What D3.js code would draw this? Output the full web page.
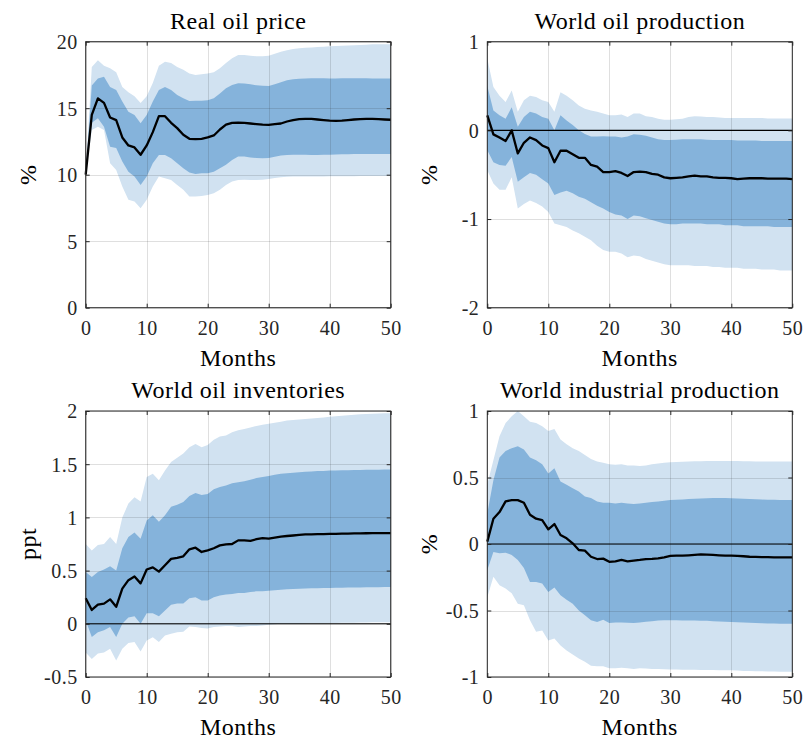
<!DOCTYPE html>
<html lang="en">
<head>
    <meta charset="UTF-8">
    <title>Impulse responses</title>
    <script src="https://cdnjs.cloudflare.com/ajax/libs/d3/7.8.5/d3.min.js"></script>
    <style>
        body {
            margin: 0;
            background: #fff;
            font-family: "Liberation Serif", "DejaVu Serif", serif;
        }
        .tick text {
            font-family: "Liberation Serif", serif;
            font-size: 20px;
            letter-spacing: 0.5px;
            fill: #262626;
        }
        .panel-title, .axis-label {
            font-size: 24px;
            letter-spacing: 0.5px;
            fill: #000;
        }
        .grid line {
            stroke: #262626;
            stroke-opacity: 0.15;
            shape-rendering: crispEdges;
        }
        .grid path, .axis path {
            display: none;
        }
        .axis line {
            stroke: #262626;
        }
    </style>
</head>
<body>
<div id="chart"></div>
<script>
    // months on the horizontal axis
    const months = d3.range(0, 51);

    // Real oil price
    const oilPriceMed = [10, 14.5, 15.74, 15.4, 14.3, 14.1, 12.8, 12.2, 12.05, 11.5, 12.2, 13.2, 14.4, 14.4, 13.9, 13.5, 13.0, 12.7, 12.68, 12.7, 12.8, 12.95, 13.4, 13.76, 13.9, 13.92, 13.9, 13.85, 13.8, 13.76, 13.75, 13.8, 13.85, 14.0, 14.1, 14.18, 14.2, 14.2, 14.15, 14.1, 14.06, 14.05, 14.06, 14.1, 14.15, 14.18, 14.2, 14.2, 14.18, 14.15, 14.13];
    const oilPriceHi68 = [10, 16.7, 17.24, 17.37, 16.6, 16.37, 15.5, 14.74, 14.49, 13.87, 14.49, 15.5, 16.37, 16.6, 16.37, 16.0, 15.74, 15.54, 15.56, 15.56, 15.6, 15.74, 16.1, 16.5, 16.74, 16.87, 16.85, 16.8, 16.72, 16.68, 16.67, 16.8, 16.95, 17.1, 17.18, 17.22, 17.24, 17.25, 17.25, 17.25, 17.24, 17.24, 17.25, 17.25, 17.26, 17.25, 17.25, 17.24, 17.24, 17.24, 17.24];
    const oilPriceLo68 = [10, 13.9, 14.24, 13.6, 12.1, 12.0, 11.0, 10.23, 9.86, 9.23, 9.86, 10.86, 11.49, 11.49, 11.24, 10.86, 10.49, 10.16, 10.06, 10.1, 10.1, 10.23, 10.49, 10.74, 11.11, 11.36, 11.36, 11.3, 11.26, 11.24, 11.26, 11.35, 11.45, 11.49, 11.5, 11.5, 11.5, 11.49, 11.49, 11.5, 11.5, 11.52, 11.53, 11.54, 11.55, 11.55, 11.56, 11.56, 11.56, 11.56, 11.56];
    const oilPriceHi90 = [10, 18.1, 18.6, 18.2, 18.0, 17.7, 16.6, 16.2, 15.9, 15.4, 15.9, 16.9, 18.2, 18.5, 18.4, 18.1, 17.9, 17.6, 17.5, 17.55, 17.6, 17.7, 18.0, 18.4, 18.75, 19.0, 19.0, 18.95, 18.9, 18.9, 18.95, 19.1, 19.25, 19.35, 19.45, 19.5, 19.55, 19.57, 19.6, 19.62, 19.65, 19.68, 19.7, 19.72, 19.74, 19.76, 19.78, 19.8, 19.8, 19.8, 19.8];
    const oilPriceLo90 = [10, 13.36, 13.6, 13.36, 10.86, 10.36, 9.11, 8.11, 7.98, 7.48, 8.11, 9.11, 9.86, 9.74, 9.61, 9.23, 8.86, 8.36, 8.36, 8.4, 8.48, 8.61, 8.86, 9.23, 9.48, 9.61, 9.62, 9.6, 9.6, 9.62, 9.68, 9.75, 9.8, 9.84, 9.86, 9.86, 9.86, 9.86, 9.87, 9.87, 9.88, 9.88, 9.88, 9.89, 9.89, 9.9, 9.9, 9.9, 9.9, 9.9, 9.9];

    // World oil production
    const oilProdMed = [0.17, -0.045, -0.08, -0.12, 0.0, -0.26, -0.14, -0.08, -0.11, -0.17, -0.2, -0.36, -0.23, -0.23, -0.27, -0.31, -0.31, -0.39, -0.41, -0.47, -0.47, -0.46, -0.48, -0.515, -0.47, -0.465, -0.47, -0.49, -0.5, -0.53, -0.54, -0.535, -0.53, -0.52, -0.51, -0.52, -0.52, -0.53, -0.535, -0.535, -0.54, -0.55, -0.545, -0.54, -0.54, -0.54, -0.545, -0.545, -0.545, -0.545, -0.55];
    const oilProdHi68 = [0.5, 0.225, 0.17, 0.13, 0.26, 0.04, 0.15, 0.21, 0.19, 0.15, 0.13, 0.0, 0.17, 0.11, 0.06, 0.0, -0.04, -0.07, -0.07, -0.065, -0.07, -0.07, -0.08, -0.07, -0.045, -0.05, -0.06, -0.08, -0.1, -0.11, -0.11, -0.105, -0.1, -0.1, -0.1, -0.1, -0.105, -0.11, -0.11, -0.11, -0.11, -0.115, -0.115, -0.115, -0.115, -0.12, -0.12, -0.12, -0.12, -0.12, -0.12];
    const oilProdLo68 = [-0.225, -0.36, -0.39, -0.4, -0.3, -0.58, -0.53, -0.48, -0.5, -0.55, -0.6, -0.73, -0.7, -0.68, -0.71, -0.75, -0.77, -0.81, -0.85, -0.88, -0.92, -0.95, -0.96, -1.0, -0.96, -0.97, -0.99, -1.01, -1.03, -1.05, -1.06, -1.06, -1.05, -1.05, -1.05, -1.05, -1.06, -1.06, -1.06, -1.07, -1.07, -1.07, -1.08, -1.08, -1.08, -1.08, -1.08, -1.09, -1.09, -1.09, -1.09];
    const oilProdHi90 = [0.81, 0.49, 0.39, 0.32, 0.45, 0.21, 0.34, 0.39, 0.375, 0.34, 0.32, 0.21, 0.43, 0.39, 0.34, 0.28, 0.245, 0.225, 0.21, 0.19, 0.17, 0.17, 0.18, 0.15, 0.19, 0.19, 0.16, 0.15, 0.13, 0.12, 0.12, 0.125, 0.13, 0.15, 0.16, 0.155, 0.15, 0.15, 0.145, 0.14, 0.14, 0.14, 0.14, 0.14, 0.14, 0.14, 0.135, 0.135, 0.135, 0.135, 0.135];
    const oilProdLo90 = [-0.45, -0.6, -0.67, -0.67, -0.53, -0.88, -0.83, -0.79, -0.82, -0.86, -0.92, -1.05, -1.07, -1.09, -1.13, -1.16, -1.2, -1.24, -1.3, -1.35, -1.37, -1.37, -1.39, -1.43, -1.41, -1.42, -1.45, -1.47, -1.49, -1.51, -1.52, -1.52, -1.52, -1.52, -1.53, -1.53, -1.53, -1.54, -1.54, -1.55, -1.55, -1.55, -1.56, -1.56, -1.56, -1.57, -1.57, -1.57, -1.58, -1.58, -1.58];

    // World oil inventories
    const invMed = [0.24, 0.13, 0.18, 0.19, 0.23, 0.16, 0.33, 0.41, 0.445, 0.38, 0.51, 0.53, 0.49, 0.55, 0.61, 0.62, 0.634, 0.70, 0.715, 0.675, 0.69, 0.71, 0.737, 0.747, 0.75, 0.784, 0.785, 0.78, 0.795, 0.806, 0.8, 0.81, 0.82, 0.825, 0.83, 0.835, 0.84, 0.84, 0.842, 0.843, 0.845, 0.845, 0.847, 0.848, 0.85, 0.85, 0.851, 0.852, 0.853, 0.853, 0.853];
    const invHi68 = [0.486, 0.44, 0.486, 0.51, 0.54, 0.5, 0.71, 0.815, 0.857, 0.8, 0.97, 1.02, 0.96, 1.02, 1.10, 1.12, 1.145, 1.2, 1.23, 1.21, 1.22, 1.265, 1.286, 1.30, 1.32, 1.33, 1.34, 1.355, 1.37, 1.38, 1.39, 1.40, 1.41, 1.415, 1.42, 1.425, 1.43, 1.432, 1.435, 1.437, 1.44, 1.441, 1.443, 1.444, 1.445, 1.446, 1.447, 1.448, 1.449, 1.45, 1.45];
    const invLo68 = [0.03, -0.125, -0.08, -0.06, -0.03, -0.125, 0.0, 0.06, 0.07, 0.0, 0.1, 0.1, 0.07, 0.125, 0.18, 0.19, 0.19, 0.24, 0.25, 0.22, 0.22, 0.25, 0.266, 0.275, 0.28, 0.29, 0.29, 0.3, 0.305, 0.307, 0.31, 0.315, 0.32, 0.325, 0.328, 0.33, 0.332, 0.334, 0.335, 0.336, 0.337, 0.338, 0.339, 0.34, 0.341, 0.342, 0.343, 0.344, 0.344, 0.345, 0.345];
    const invHi90 = [0.75, 0.69, 0.74, 0.75, 0.815, 0.75, 1.0, 1.13, 1.19, 1.15, 1.38, 1.41, 1.35, 1.44, 1.52, 1.56, 1.6, 1.66, 1.69, 1.66, 1.68, 1.73, 1.76, 1.77, 1.80, 1.82, 1.83, 1.845, 1.86, 1.87, 1.88, 1.89, 1.9, 1.91, 1.915, 1.92, 1.925, 1.93, 1.935, 1.94, 1.945, 1.95, 1.955, 1.96, 1.965, 1.97, 1.972, 1.975, 1.977, 1.98, 1.98];
    const invLo90 = [-0.27, -0.33, -0.28, -0.27, -0.235, -0.345, -0.235, -0.18, -0.17, -0.26, -0.157, -0.126, -0.17, -0.11, -0.094, -0.08, -0.075, -0.025, -0.03, -0.04, -0.045, -0.03, -0.025, -0.02, -0.02, -0.03, -0.025, -0.02, -0.02, -0.015, -0.01, -0.005, 0.0, 0.0, 0.0, 0.0, 0.002, 0.004, 0.005, 0.006, 0.007, 0.008, 0.009, 0.01, 0.011, 0.012, 0.013, 0.014, 0.015, 0.015, 0.015];

    // World industrial production
    const ipMed = [0.018, 0.19, 0.24, 0.32, 0.33, 0.33, 0.31, 0.22, 0.19, 0.18, 0.11, 0.15, 0.068, 0.043, 0.005, -0.045, -0.05, -0.096, -0.113, -0.11, -0.134, -0.13, -0.12, -0.13, -0.125, -0.12, -0.113, -0.112, -0.108, -0.1, -0.09, -0.088, -0.087, -0.085, -0.082, -0.078, -0.08, -0.082, -0.085, -0.087, -0.088, -0.09, -0.092, -0.096, -0.097, -0.098, -0.099, -0.1, -0.1, -0.1, -0.1];
    const ipHi68 = [0.23, 0.48, 0.65, 0.70, 0.72, 0.735, 0.71, 0.65, 0.63, 0.6, 0.53, 0.57, 0.47, 0.445, 0.42, 0.395, 0.357, 0.345, 0.32, 0.31, 0.31, 0.305, 0.31, 0.305, 0.30, 0.305, 0.31, 0.315, 0.32, 0.325, 0.33, 0.333, 0.335, 0.338, 0.34, 0.342, 0.344, 0.345, 0.345, 0.345, 0.344, 0.342, 0.34, 0.338, 0.336, 0.334, 0.333, 0.332, 0.331, 0.33, 0.33];
    const ipLo68 = [-0.196, -0.06, -0.07, -0.065, -0.083, -0.12, -0.18, -0.285, -0.285, -0.297, -0.36, -0.327, -0.385, -0.42, -0.45, -0.5, -0.536, -0.574, -0.587, -0.57, -0.594, -0.59, -0.59, -0.592, -0.594, -0.59, -0.585, -0.58, -0.576, -0.574, -0.574, -0.574, -0.575, -0.575, -0.576, -0.577, -0.578, -0.58, -0.582, -0.584, -0.586, -0.588, -0.59, -0.592, -0.594, -0.596, -0.597, -0.598, -0.6, -0.6, -0.6];
    const ipHi90 = [0.45, 0.63, 0.81, 0.91, 0.96, 1.0, 0.96, 0.92, 0.91, 0.886, 0.85, 0.865, 0.785, 0.75, 0.72, 0.70, 0.67, 0.64, 0.62, 0.61, 0.6, 0.595, 0.6, 0.59, 0.59, 0.586, 0.59, 0.6, 0.605, 0.61, 0.614, 0.616, 0.618, 0.62, 0.622, 0.623, 0.624, 0.625, 0.625, 0.625, 0.625, 0.624, 0.623, 0.622, 0.621, 0.62, 0.62, 0.62, 0.62, 0.62, 0.62];
    const ipLo90 = [-0.4, -0.247, -0.31, -0.335, -0.37, -0.45, -0.46, -0.574, -0.66, -0.65, -0.725, -0.71, -0.763, -0.8, -0.83, -0.86, -0.886, -0.916, -0.92, -0.92, -0.935, -0.935, -0.93, -0.935, -0.94, -0.935, -0.937, -0.94, -0.94, -0.942, -0.943, -0.944, -0.945, -0.945, -0.946, -0.947, -0.948, -0.948, -0.949, -0.95, -0.95, -0.952, -0.954, -0.955, -0.956, -0.957, -0.958, -0.959, -0.96, -0.96, -0.96];

    const xTicks = [0, 10, 20, 30, 40, 50];

    const panels = [
        {title: "Real oil price", ylabel: "%", domain: [0, 20], ticks: [0, 5, 10, 15, 20], zero: false,
         med: oilPriceMed, lo68: oilPriceLo68, hi68: oilPriceHi68, lo90: oilPriceLo90, hi90: oilPriceHi90},
        {title: "World oil production", ylabel: "%", domain: [-2, 1], ticks: [-2, -1, 0, 1], zero: true,
         med: oilProdMed, lo68: oilProdLo68, hi68: oilProdHi68, lo90: oilProdLo90, hi90: oilProdHi90},
        {title: "World oil inventories", ylabel: "ppt", domain: [-0.5, 2], ticks: [-0.5, 0, 0.5, 1, 1.5, 2], zero: true,
         med: invMed, lo68: invLo68, hi68: invHi68, lo90: invLo90, hi90: invHi90},
        {title: "World industrial production", ylabel: "%", domain: [-1, 1], ticks: [-1, -0.5, 0, 0.5, 1], zero: true,
         med: ipMed, lo68: ipLo68, hi68: ipHi68, lo90: ipLo90, hi90: ipHi90}
    ];

    // layout of the 2x2 grid
    const svgW = 806, svgH = 741;
    const plotW = 305, plotH = 266;
    const lefts = [85.7, 487.3];
    const tops = [41.7, 411];

    const svg = d3.select("#chart")
        .append("svg")
        .attr("width", svgW)
        .attr("height", svgH);

    panels.forEach((p, i) => {
        const g = svg.append("g")
            .attr("transform", `translate(${lefts[i % 2]},${tops[Math.floor(i / 2)]})`);

        const x = d3.scaleLinear().domain([0, 50]).range([0, plotW]);
        const y = d3.scaleLinear().domain(p.domain).range([plotH, 0]);

        const band = (lo, hi) => d3.area()
            .x(m => x(m))
            .y0(m => y(lo[m]))
            .y1(m => y(hi[m]));

        // 90% band, then 68% band
        g.append("path")
            .datum(months)
            .attr("fill", "#d1e2f1")
            .attr("d", band(p.lo90, p.hi90));

        g.append("path")
            .datum(months)
            .attr("fill", "#85b3db")
            .attr("d", band(p.lo68, p.hi68));

        // grid on top of the bands
        g.append("g")
            .attr("class", "grid")
            .attr("transform", `translate(0,${plotH})`)
            .call(d3.axisBottom(x).tickValues(xTicks).tickSize(-plotH).tickFormat(""));

        g.append("g")
            .attr("class", "grid")
            .call(d3.axisLeft(y).tickValues(p.ticks).tickSize(-plotW).tickFormat(""));

        if (p.zero) {
            g.append("line")
                .attr("x1", 0)
                .attr("x2", plotW)
                .attr("y1", y(0))
                .attr("y2", y(0))
                .attr("stroke", "#000")
                .attr("stroke-width", 1.1);
        }

        // median response
        g.append("path")
            .datum(months)
            .attr("fill", "none")
            .attr("stroke", "#000")
            .attr("stroke-width", 2.3)
            .attr("stroke-linejoin", "round")
            .attr("d", d3.line().x(m => x(m)).y(m => y(p.med[m])));

        // axes with ticks pointing inward
        g.append("g")
            .attr("class", "axis")
            .attr("transform", `translate(0,${plotH})`)
            .call(d3.axisBottom(x).tickValues(xTicks).tickSize(-4).tickPadding(10).tickFormat(d => String(d)));

        g.append("g")
            .attr("class", "axis")
            .call(d3.axisTop(x).tickValues(xTicks).tickSize(-4).tickFormat(""));

        g.append("g")
            .attr("class", "axis")
            .call(d3.axisLeft(y).tickValues(p.ticks).tickSize(-4).tickPadding(8).tickFormat(d => String(d)));

        g.append("g")
            .attr("class", "axis")
            .attr("transform", `translate(${plotW},0)`)
            .call(d3.axisRight(y).tickValues(p.ticks).tickSize(-4).tickFormat(""));

        // box
        g.append("rect")
            .attr("width", plotW)
            .attr("height", plotH)
            .attr("fill", "none")
            .attr("stroke", "#262626")
            .attr("stroke-width", 1);

        g.append("text")
            .attr("class", "panel-title")
            .attr("x", plotW / 2)
            .attr("y", -13)
            .attr("text-anchor", "middle")
            .text(p.title);

        g.append("text")
            .attr("class", "axis-label")
            .attr("x", plotW / 2)
            .attr("y", plotH + 58)
            .attr("text-anchor", "middle")
            .text("Months");

        g.append("text")
            .attr("class", "axis-label")
            .attr("transform", `translate(-50,${plotH / 2}) rotate(-90)`)
            .attr("text-anchor", "middle")
            .text(p.ylabel);
    });

    // vertical placement of tick labels
    svg.selectAll(".axis .tick text").each(function() {
        const t = d3.select(this);
        if (t.attr("y") && +t.attr("y") > 0) t.attr("dy", "0.85em");
        else t.attr("dy", "0.34em");
    });
</script>
</body>
</html>
